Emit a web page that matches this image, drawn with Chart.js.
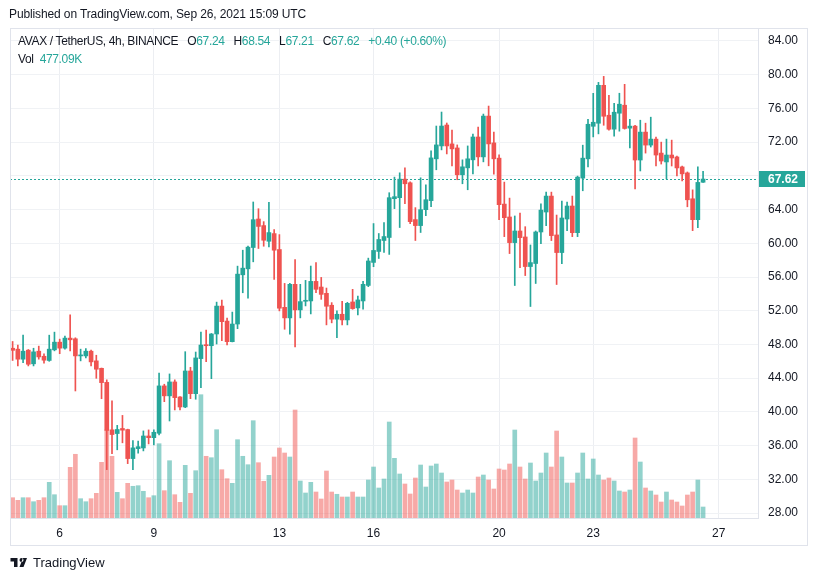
<!DOCTYPE html>
<html>
<head>
<meta charset="utf-8">
<script src="https://cdn.jsdelivr.net/npm/chart.js@4.4.0/dist/chart.umd.min.js"></script>
<style>
  body { margin: 0; background: #fff; font-family: "Liberation Sans", Arial, sans-serif; color: #131722; }
  #wrap { position: relative; width: 819px; height: 581px; overflow: hidden; }
  #c { position: absolute; left: 0; top: 0; }
  .pub { position: absolute; left: 9px; top: 7px; font-size: 12px; letter-spacing: -0.12px; }
  .legend { position: absolute; left: 18px; top: 32px; font-size: 12px; line-height: 18px; letter-spacing: -0.35px; }
  .legend .k { margin-left: 6px; }
  .legend .v { color: #26a69a; }
  .logo { position: absolute; left: 10px; top: 555px; font-size: 13px; display: flex; align-items: center; }
  .logo svg { margin-right: 4px; }
</style>
</head>
<body>
<div id="wrap">
  <canvas id="c" width="819" height="581"></canvas>
  <div class="pub">Published on TradingView.com, Sep 26, 2021 15:09 UTC</div>
  <div class="legend">
    <div>AVAX / TetherUS, 4h, BINANCE <span class="k">O</span><span class="v">67.24</span> <span class="k">H</span><span class="v">68.54</span> <span class="k">L</span><span class="v">67.21</span> <span class="k">C</span><span class="v">67.62</span> <span class="k v">+0.40 (+0.60%)</span></div>
    <div>Vol <span class="v" style="margin-left:3px">477.09K</span></div>
  </div>
  <div class="logo"><svg width="19" height="14" viewBox="0 0 36 28"><path d="M14 22H7V11H0V4h14v18zm8-18a4 4 0 110 8 4 4 0 010-8zm-4 18h8l7-18h-8l-7 18z" fill="#131722"/></svg>TradingView</div>
</div>
<script>
// AVAX/USDT 4h candles, Sep 4 12:00 -> Sep 26 12:00 (UTC)
var opens = [47.55, 47.44, 46.25, 47.32, 45.7, 47.2, 46.6, 46.1, 47.36, 48.27,
  47.56, 48.75, 48.67, 46.64, 46.64, 47.2, 46.05, 45.17, 43.5, 37.87,
  37.43, 38.03, 37.9, 34.46, 35.64, 35.72, 37.14, 36.94, 37.46, 43.08,
  41.9, 43.55, 41.77, 40.58, 44.85, 42.16, 46.32, 47.93, 47.85, 49.24,
  52.55, 50.77, 48.33, 50.42, 56.26, 56.97, 59.5, 62.88, 62.1, 60.24,
  61.15, 59.26, 52.4, 51.15, 55.13, 52.1, 53.12, 53.16, 55.48, 54.81,
  54.06, 52.65, 51.0, 51.58, 50.91, 53.04, 52.33, 53.16, 55.0, 57.73,
  59.03, 60.33, 60.69, 65.29, 65.41, 67.61, 67.18, 62.81, 62.1, 63.99,
  65.06, 70.02, 71.55, 74.03, 71.79, 71.31, 68.13, 68.95, 69.9, 72.61,
  70.25, 75.09, 71.91, 70.1, 64.65, 63.12, 60.08, 61.46, 60.75, 57.24,
  57.6, 61.34, 63.71, 65.6, 60.99, 58.9, 62.88, 64.42, 61.26, 67.73,
  70.02, 73.88, 74.24, 78.74, 75.19, 73.54, 75.43, 76.38, 73.66, 73.9,
  69.88, 73.19, 71.65, 72.36, 70.7, 69.65, 70.47, 70.24, 69.06, 68.35,
  65.28, 62.8, 67.24];
var highs = [48.35, 47.91, 49.1, 47.4, 47.55, 47.8, 46.9, 49.1, 49.46, 48.63,
  49.0, 51.5, 48.79, 47.44, 47.52, 47.32, 46.72, 45.2, 43.8, 41.3,
  38.4, 39.58, 37.95, 36.6, 36.55, 37.74, 37.86, 37.86, 44.6, 43.28,
  44.5, 43.8, 41.8, 47.14, 45.29, 47.1, 49.47, 49.7, 49.3, 53.02,
  53.26, 51.13, 51.84, 57.29, 59.18, 59.66, 64.9, 64.1, 62.57, 64.85,
  61.62, 61.03, 55.24, 55.24, 58.08, 55.13, 55.6, 57.3, 57.72, 55.95,
  54.69, 52.96, 51.98, 53.12, 53.0, 54.54, 53.75, 55.48, 58.24, 62.34,
  61.16, 62.46, 66.0, 67.85, 68.36, 68.95, 67.3, 64.23, 67.77, 66.94,
  70.96, 73.91, 75.57, 74.27, 73.44, 71.67, 69.9, 71.55, 72.97, 73.8,
  75.33, 76.28, 73.18, 70.49, 67.26, 65.36, 63.24, 63.59, 61.97, 59.8,
  61.46, 64.69, 66.07, 66.07, 63.35, 65.01, 64.89, 65.6, 67.97, 71.64,
  74.71, 77.79, 79.09, 79.8, 77.55, 76.61, 77.8, 78.86, 74.72, 74.0,
  74.6, 74.25, 74.96, 72.6, 72.0, 72.36, 72.24, 70.35, 69.17, 68.46,
  66.34, 69.06, 68.54];
var lows = [46.1, 45.45, 45.85, 45.45, 45.45, 46.25, 45.77, 46.0, 47.24, 46.9,
  47.44, 47.24, 42.48, 46.05, 46.4, 45.45, 43.98, 41.56, 33.15, 35.05,
  35.5, 36.33, 33.86, 33.15, 35.09, 35.37, 36.2, 36.08, 37.26, 41.21,
  38.92, 40.23, 40.23, 40.5, 41.57, 41.5, 42.88, 45.96, 43.94, 48.05,
  48.44, 47.93, 48.3, 49.87, 54.13, 53.5, 57.8, 59.38, 59.65, 59.57,
  55.72, 51.98, 49.8, 49.22, 47.72, 51.15, 52.57, 51.62, 54.14, 53.35,
  50.32, 50.56, 48.79, 50.32, 50.32, 52.17, 51.5, 52.17, 54.85, 57.22,
  58.2, 58.91, 58.68, 64.11, 61.87, 64.7, 62.34, 60.33, 61.28, 63.28,
  64.35, 68.72, 71.08, 70.6, 69.19, 67.54, 67.06, 66.35, 68.24, 69.19,
  69.66, 69.19, 68.2, 62.8, 60.79, 58.78, 54.99, 57.12, 56.17, 52.5,
  55.23, 59.96, 62.09, 60.32, 55.11, 57.59, 61.5, 60.79, 60.79, 66.23,
  69.07, 72.62, 72.98, 74.0, 73.41, 72.72, 73.3, 73.54, 71.3, 66.46,
  68.58, 70.7, 71.42, 69.17, 69.4, 67.64, 69.17, 67.99, 67.4, 64.33,
  61.5, 61.85, 67.21];
var closes = [47.3, 46.25, 47.2, 45.65, 47.12, 46.52, 46.13, 47.44, 48.27, 47.56,
  48.75, 48.55, 46.64, 46.72, 47.2, 45.93, 45.06, 43.47, 37.8, 37.31,
  37.91, 37.83, 34.46, 35.73, 35.87, 37.14, 36.94, 37.58, 43.08, 41.9,
  43.55, 41.69, 40.58, 44.85, 42.16, 46.4, 47.93, 47.85, 49.24, 52.55,
  50.7, 48.33, 50.42, 56.34, 57.05, 59.54, 62.8, 62.0, 60.36, 61.27,
  59.18, 52.3, 51.15, 55.13, 52.1, 53.08, 53.24, 55.48, 54.54, 53.94,
  52.53, 51.0, 51.58, 50.91, 52.88, 52.25, 53.28, 55.13, 57.9, 59.15,
  60.45, 60.8, 65.41, 65.53, 67.61, 67.06, 62.57, 62.1, 63.99, 65.17,
  70.13, 71.67, 73.91, 71.55, 71.2, 68.13, 69.07, 70.02, 72.61, 70.25,
  75.09, 71.79, 70.02, 64.58, 63.04, 60.08, 61.46, 60.67, 57.24, 57.71,
  61.34, 63.94, 65.6, 60.91, 58.9, 63.0, 64.42, 61.26, 67.85, 70.1,
  74.12, 74.36, 78.74, 75.07, 73.53, 75.55, 76.5, 73.62, 73.9, 69.88,
  73.19, 71.65, 72.36, 70.47, 69.76, 70.47, 70.12, 68.94, 68.23, 65.16,
  62.8, 67.22, 67.62];
// volume in thousands
var volumes = [881, 768, 881, 881, 707, 768, 881, 1549, 1011, 534,
  534, 2200, 2765, 838, 707, 838, 1072, 2417, 3832, 2678,
  1115, 838, 1506, 1376, 1402, 1159, 881, 968, 3225, 1185,
  2487, 1011, 681, 2287, 1072, 2053, 5351, 2678, 2617, 3832,
  2096, 1706, 1506, 3398, 2678, 2313, 4223, 2400, 1593, 1853,
  2647, 3038, 2821, 2647, 4687, 1606, 1085, 1549, 1128, 825,
  2040, 1128, 1029, 911, 911, 1128, 911, 911, 1649, 2213,
  1302, 1693, 4166, 2591, 1910, 1476, 1042, 1736, 2300, 1345,
  2257, 2344, 1953, 1562, 1649, 1215, 1085, 1215, 1085, 1779,
  1866, 1649, 1259, 2127, 2083, 2344, 3819, 2213, 1693, 2387,
  1606, 1953, 2821, 2213, 3776, 2647, 1519, 1519, 1953, 2821,
  1693, 2561, 1866, 1649, 1736, 1606, 1172, 1128, 1215, 3472,
  2430, 1302, 1172, 998, 694, 1128, 781, 694, 521, 998,
  1128, 1649, 477];
var tickDays = ['6', '9', '13', '16', '20', '23', '27'];
var priceTicks = [28, 32, 36, 40, 44, 48, 52, 56, 60, 64, 68, 72, 76, 80, 84];

// 4h slots, with some empty room after the last candle
var labels = [];
var t0 = Date.UTC(2021, 8, 4, 12);
for (var i = 0; i < 143; i++) {
  var d = new Date(t0 + i * 4 * 3600 * 1000);
  labels.push(d.getUTCDate() + ' ' + String(d.getUTCHours()).padStart(2, '0') + ':00');
}

var UP = '#26a69a', DOWN = '#ef5350';
var lastClose = closes[closes.length - 1];
var candleColors = closes.map(function (c, i) { return c >= opens[i] ? UP : DOWN; });
var volColors = closes.map(function (c, i) { return c >= opens[i] ? 'rgba(38,166,154,0.5)' : 'rgba(239,83,80,0.5)'; });
var wicks = lows.map(function (l, i) { return [l, highs[i]]; });
var bodies = opens.map(function (o, i) { return [Math.min(o, closes[i]), Math.max(o, closes[i])]; });

function isDayTick(i) {
  var p = (labels[i] || '').split(' ');
  return p[1] === '00:00' && tickDays.indexOf(p[0]) >= 0;
}

var extras = {
  id: 'extras',
  beforeDatasetsDraw: function (chart) {
    var ctx = chart.ctx, a = chart.chartArea;
    var y = Math.round(chart.scales.y.getPixelForValue(lastClose)) + 0.5;
    ctx.save();
    ctx.strokeStyle = UP;
    ctx.lineWidth = 1;
    ctx.setLineDash([2, 2]);
    ctx.beginPath();
    ctx.moveTo(a.left, y);
    ctx.lineTo(a.right, y);
    ctx.stroke();
    ctx.restore();
  },
  afterDraw: function (chart) {
    var ctx = chart.ctx, a = chart.chartArea;
    ctx.save();
    ctx.strokeStyle = '#e0e3eb';
    ctx.lineWidth = 1;
    ctx.strokeRect(10.5, 28.5, 797, 517);
    var y = Math.round(chart.scales.y.getPixelForValue(lastClose));
    ctx.fillStyle = UP;
    ctx.fillRect(a.right + 1, y - 8, 46, 16);
    ctx.fillStyle = '#fff';
    ctx.font = 'bold 12px "Liberation Sans", Arial, sans-serif';
    ctx.textBaseline = 'middle';
    ctx.fillText(lastClose.toFixed(2), a.right + 10, y + 1);
    ctx.restore();
  }
};

new Chart(document.getElementById('c'), {
  type: 'bar',
  data: {
    labels: labels,
    datasets: [
      { data: bodies, backgroundColor: candleColors, barThickness: 4, minBarLength: 1, grouped: false, order: 1, yAxisID: 'y' },
      { data: wicks, backgroundColor: candleColors, barThickness: 1, grouped: false, order: 2, yAxisID: 'y' },
      { data: volumes, backgroundColor: volColors, barThickness: 4, grouped: false, order: 3, yAxisID: 'vol' }
    ]
  },
  options: {
    responsive: false,
    animation: false,
    events: [],
    layout: { padding: { left: 10, top: 28, right: 11, bottom: 35 } },
    plugins: { legend: { display: false }, tooltip: { enabled: false } },
    scales: {
      x: {
        offset: true,
        grid: {
          offset: false,
          drawTicks: false,
          color: function (c) { return isDayTick(c.index) ? '#eceef2' : 'rgba(0,0,0,0)'; }
        },
        border: { color: '#e0e3eb' },
        ticks: {
          autoSkip: false, maxRotation: 0, padding: 8,
          color: '#131722', font: { size: 12, family: '"Liberation Sans", Arial, sans-serif' },
          callback: function (v, i) { return isDayTick(i) ? labels[i].split(' ')[0] : ''; }
        },
        afterFit: function (s) { s.height = 28; }
      },
      y: {
        position: 'right',
        min: 27.41,
        max: 85.54,
        grid: { color: '#f0f2f5', drawTicks: false },
        border: { color: '#e0e3eb' },
        ticks: {
          padding: 10,
          color: '#131722', font: { size: 12, family: '"Liberation Sans", Arial, sans-serif' },
          // the last-price badge hides the tick right next to it
          callback: function (v) { return Math.abs(v - lastClose) < 1.5 ? '' : v.toFixed(2); }
        },
        afterBuildTicks: function (s) { s.ticks = priceTicks.map(function (v) { return { value: v }; }); },
        afterFit: function (s) { s.width = 50; }
      },
      vol: { display: false, min: 0, max: 21266 }
    }
  },
  plugins: [extras]
});
</script>
</body>
</html>
